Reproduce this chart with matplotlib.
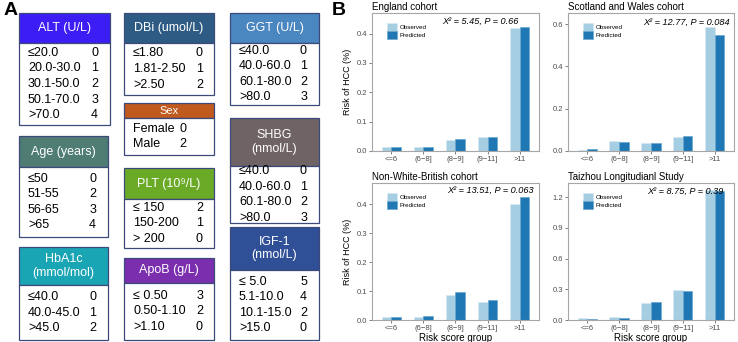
import numpy as np
import matplotlib
matplotlib.use("Agg")
import matplotlib.pyplot as plt
from matplotlib.patches import Rectangle, Patch

plt.rcParams['font.family'] = ['Liberation Sans', 'DejaVu Sans']

# ---- panel A: scoring table ----
alt_ranges = ["≤20.0", "20.0-30.0", "30.1-50.0", "50.1-70.0", ">70.0"]
alt_scores = [0, 1, 2, 3, 4]
age_ranges = ["≤50", "51-55", "56-65", ">65"]
age_scores = [0, 2, 3, 4]
hba1c_ranges = ["≤40.0", "40.0-45.0", ">45.0"]
hba1c_scores = [0, 1, 2]
dbi_ranges = ["≤1.80", "1.81-2.50", ">2.50"]
dbi_scores = [0, 1, 2]
sex_ranges = ["Female", "Male"]
sex_scores = [0, 2]
plt_ranges = ["≤ 150", "150-200", "> 200"]
plt_scores = [2, 1, 0]
apob_ranges = ["≤ 0.50", "0.50-1.10", ">1.10"]
apob_scores = [3, 2, 0]
ggt_ranges = ["≤40.0", "40.0-60.0", "60.1-80.0", ">80.0"]
ggt_scores = [0, 1, 2, 3]
shbg_ranges = ["≤40.0", "40.0-60.0", "60.1-80.0", ">80.0"]
shbg_scores = [0, 1, 2, 3]
igf_ranges = ["≤ 5.0", "5.1-10.0", "10.1-15.0", ">15.0"]
igf_scores = [5, 4, 2, 0]

# ---- panel B: calibration bars ----
groups = ["<=6", "(6\u22128]", "(8\u22129]", "(9\u221211]", ">11"]
eng_obs = [0.012, 0.013, 0.039, 0.046, 0.420]
eng_pred = [0.012, 0.013, 0.040, 0.047, 0.421]
sw_obs = [0.007, 0.047, 0.039, 0.065, 0.584]
sw_pred = [0.008, 0.044, 0.036, 0.070, 0.547]
nwb_obs = [0.010, 0.012, 0.085, 0.061, 0.400]
nwb_pred = [0.010, 0.013, 0.097, 0.069, 0.424]
tz_obs = [0.018, 0.028, 0.169, 0.293, 1.271]
tz_pred = [0.013, 0.018, 0.179, 0.284, 1.266]

fig = plt.figure(figsize=(7.38, 3.42), dpi=100)

# overlay axes in pixel units for panel A
ax0 = fig.add_axes([0, 0, 1, 1])
ax0.set_xlim(0, 738)
ax0.set_ylim(342, 0)
ax0.axis('off')

# (header, color, ranges, scores, left, top, right, header_bottom, bottom, score_right)
boxes = [
    ("ALT (U/L)", "#3C1EF5", alt_ranges, alt_scores, 19, 13, 110, 43, 125, 98),
    ("Age (years)", "#4F7D74", age_ranges, age_scores, 19, 136, 108, 167, 237, 96),
    ("HbA1c\n(mmol/mol)", "#1AA5B5", hba1c_ranges, hba1c_scores, 19, 247, 108, 285, 340, 96),
    ("DBi (umol/L)", "#2E5B84", dbi_ranges, dbi_scores, 124, 13, 214, 43, 95, 203),
    ("Sex", "#C05A1E", sex_ranges, sex_scores, 124, 103, 214, 118, 155, 186),
    ("PLT (10⁹/L)", "#6BAA27", plt_ranges, plt_scores, 124, 168, 214, 199, 248, 203),
    ("ApoB (g/L)", "#7B2EAE", apob_ranges, apob_scores, 124, 258, 214, 283, 340, 203),
    ("GGT (U/L)", "#4A86BF", ggt_ranges, ggt_scores, 230, 13, 319, 43, 105, 307),
    ("SHBG\n(nmol/L)", "#6F6365", shbg_ranges, shbg_scores, 230, 118, 319, 166, 223, 307),
    ("IGF-1\n(nmol/L)", "#2F4F97", igf_ranges, igf_scores, 230, 227, 319, 270, 340, 307),
]

edge = "#3B4A7A"
for head, col, rngs, scs, l, t, r, hb, b, sx in boxes:
    ax0.add_patch(Rectangle((l, t), r - l, hb - t, facecolor=col, edgecolor=edge, lw=0.9))
    ax0.add_patch(Rectangle((l, hb), r - l, b - hb, facecolor="white", edgecolor=edge, lw=0.9))
    hs = 8 if head == "Sex" else 9
    ax0.text((l + r) / 2, (t + hb) / 2, head, color="white", fontsize=hs,
             ha="center", va="center", linespacing=1.2)
    n = len(rngs)
    mid = (hb + b) / 2
    step = 15.6
    for i, (rg, sc) in enumerate(zip(rngs, scs)):
        y = mid + (i - (n - 1) / 2) * step
        ax0.text(l + 9, y, rg, fontsize=9, ha="left", va="center")
        ax0.text(sx, y, str(sc), fontsize=9, ha="right", va="center")

ax0.text(4, 2, "A", fontsize=14, fontweight="bold", ha="left", va="top")
ax0.text(332, 2, "B", fontsize=14, fontweight="bold", ha="left", va="top")

# ---- panel B axes ----
panels = [
    ("England cohort", eng_obs, eng_pred, "X² = 5.45, P = 0.66", 0.47, [0, 0.1, 0.2, 0.3, 0.4],
     [0.504, 0.5585, 0.2263, 0.4035], 0.875, 0.94),
    ("Scotland and Wales cohort", sw_obs, sw_pred, "X² = 12.77, P = 0.084", 0.652, [0, 0.2, 0.4, 0.6],
     [0.7696, 0.5585, 0.2249, 0.4035], 0.978, 0.93),
    ("Non-White-British cohort", nwb_obs, nwb_pred, "X² = 13.51, P = 0.063", 0.474, [0, 0.1, 0.2, 0.3, 0.4],
     [0.504, 0.0643, 0.2263, 0.4006], 0.97, 0.945),
    ("Taizhou Longitudianl Study", tz_obs, tz_pred, "X² = 8.75, P = 0.39", 1.34, [0, 0.3, 0.6, 0.9, 1.2],
     [0.7696, 0.0643, 0.2249, 0.4006], 0.935, 0.94),
]

obs_col = "#A6CEE3"
pred_col = "#1F78B4"
x = np.arange(len(groups))
w = 0.3
for k, (title, obs, pred, stat, ytop, yt, pos, sx, sy) in enumerate(panels):
    ax = fig.add_axes(pos)
    ax.bar(x - w / 2, obs, w, color=obs_col, edgecolor="#D6E8F2", lw=0.4)
    ax.bar(x + w / 2, pred, w, color=pred_col, edgecolor="#5FA0CC", lw=0.4)
    ax.set_xlim(-0.6, 4.6)
    ax.set_ylim(0, ytop)
    ax.set_yticks(yt)
    ax.set_yticklabels([f"{v:.1f}" for v in yt])
    ax.set_xticks(x)
    ax.set_xticklabels(groups)
    ax.tick_params(labelsize=5.5, labelcolor="#4D4D4D", color="#4D4D4D", length=2, width=0.5, pad=1.5)
    for s in ax.spines.values():
        s.set_color("#A6A6A6")
        s.set_linewidth(0.8)
    ax.set_title(title, loc="left", fontsize=7, pad=2)
    ax.text(sx, sy, stat, transform=ax.transAxes, fontsize=6.6, style="italic",
            ha="right", va="center")
    handles = [Patch(facecolor=obs_col, edgecolor="#D6E8F2", lw=0.4),
               Patch(facecolor=pred_col, edgecolor="#5FA0CC", lw=0.4)]
    ax.legend(handles, ["Observed", "Predicted"], loc="upper left", bbox_to_anchor=(0.09, 0.925),
              frameon=False, fontsize=4.5, handlelength=1.6, handleheight=1.6,
              labelspacing=0.0, handletextpad=0.4, borderpad=0, borderaxespad=0)
    if k % 2 == 0:
        ax.set_ylabel("Risk of HCC (%)", fontsize=6.5, labelpad=3)
    if k >= 2:
        ax.set_xlabel("Risk score group", fontsize=7, labelpad=1)

fig.savefig("out.png", dpi=100)
